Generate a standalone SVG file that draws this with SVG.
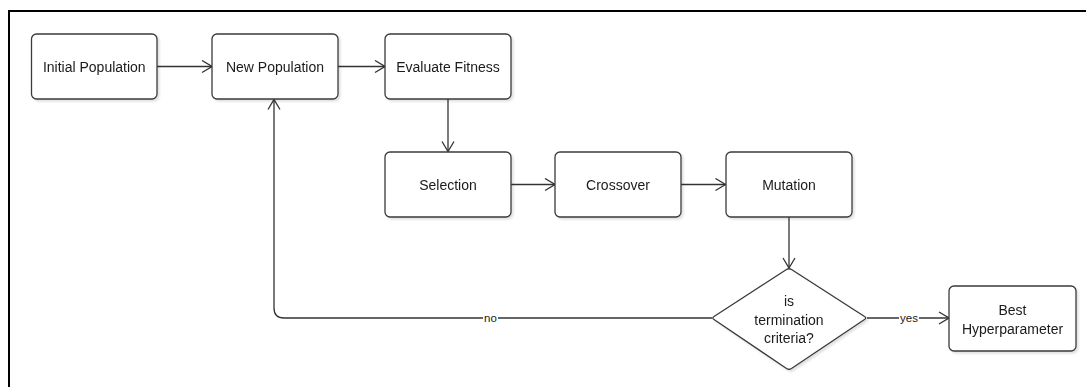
<svg xmlns="http://www.w3.org/2000/svg" width="1086" height="387" viewBox="0 0 1086 387">
  <style>
    .box { fill: #ffffff; stroke: #3a3a3a; stroke-width: 1.3; }
    .lbl { font-family: "Liberation Sans", Arial, sans-serif; font-size: 14px; fill: #1a1a1a; text-anchor: middle; dominant-baseline: central; }
    .edge { fill: none; stroke: #333333; stroke-width: 1.3; }
    .elbl { font-family: "Liberation Sans", Arial, sans-serif; font-size: 11.5px; fill: #1a1a1a; text-anchor: middle; dominant-baseline: central; }
  </style>
  <defs>
    <marker id="open" viewBox="0 0 12 14" refX="11" refY="7" markerWidth="12" markerHeight="14" markerUnits="userSpaceOnUse" orient="auto">
      <path d="M1,1 L11,7 L1,13" fill="none" stroke="#333333" stroke-width="1.3"/>
    </marker>
    <filter id="shadow" x="-10%" y="-10%" width="130%" height="140%">
      <feGaussianBlur in="SourceAlpha" stdDeviation="1.2"/>
      <feOffset dx="2" dy="2" result="b"/>
      <feComponentTransfer><feFuncA type="linear" slope="0.12"/></feComponentTransfer>
      <feMerge><feMergeNode/><feMergeNode in="SourceGraphic"/></feMerge>
    </filter>
  </defs>

  <rect width="1086" height="387" fill="#ffffff"/>
  <!-- frame: top and left edges -->
  <path d="M9,387 L9,11 L1086,11" fill="none" stroke="#000000" stroke-width="2"/>

  <g id="connectors">
    <path class="edge" d="M157,66.5 L212,66.5" marker-end="url(#open)"/>
    <path class="edge" d="M338,66.5 L385,66.5" marker-end="url(#open)"/>
    <path class="edge" d="M448,99 L448,151.5" marker-end="url(#open)"/>
    <path class="edge" d="M511,184.5 L555,184.5" marker-end="url(#open)"/>
    <path class="edge" d="M681,184.5 L725.5,184.5" marker-end="url(#open)"/>
    <path class="edge" d="M789,217 L789,268" marker-end="url(#open)"/>
    <path class="edge" d="M712,318 L284,318 Q274,318 274,308 L274,99.5" marker-end="url(#open)"/>
    <path class="edge" d="M867,318 L949,318" marker-end="url(#open)"/>
    <rect x="483" y="311" width="15" height="14" fill="#ffffff"/>
    <text class="elbl" x="490.5" y="318">no</text>
    <rect x="899" y="311" width="20" height="14" fill="#ffffff"/>
    <text class="elbl" x="909" y="317.5">yes</text>
  </g>

  <g id="initial-population" filter="url(#shadow)">
    <rect class="box" x="31.5" y="34" width="125.5" height="65" rx="5"/>
    <text class="lbl" x="94.3" y="66.5">Initial Population</text>
  </g>
  <g id="new-population" filter="url(#shadow)">
    <rect class="box" x="212" y="34" width="126" height="65" rx="5"/>
    <text class="lbl" x="275" y="66.5">New Population</text>
  </g>
  <g id="evaluate-fitness" filter="url(#shadow)">
    <rect class="box" x="385" y="34" width="126" height="65" rx="5"/>
    <text class="lbl" x="448" y="66.5">Evaluate Fitness</text>
  </g>
  <g id="selection" filter="url(#shadow)">
    <rect class="box" x="385" y="152" width="126" height="65" rx="5"/>
    <text class="lbl" x="448" y="184.5">Selection</text>
  </g>
  <g id="crossover" filter="url(#shadow)">
    <rect class="box" x="555" y="152" width="126" height="65" rx="5"/>
    <text class="lbl" x="618" y="184.5">Crossover</text>
  </g>
  <g id="mutation" filter="url(#shadow)">
    <rect class="box" x="726" y="152" width="126" height="65" rx="5"/>
    <text class="lbl" x="789" y="184.5">Mutation</text>
  </g>
  <g id="termination-check" filter="url(#shadow)">
    <path class="box" d="M786.5,269.5 Q789,268 791.5,269.5 L864.5,316.5 Q867,318 864.5,319.5 L791.5,368.5 Q789,370 786.5,368.5 L714,319.5 Q711.5,318 714,316.5 Z"/>
    <text class="lbl" x="789" y="301">is</text>
    <text class="lbl" x="789" y="319.5">termination</text>
    <text class="lbl" x="789" y="338">criteria?</text>
  </g>
  <g id="best-hyperparameter" filter="url(#shadow)">
    <rect class="box" x="949" y="286" width="127" height="65" rx="5"/>
    <text class="lbl" x="1012.5" y="309.5">Best</text>
    <text class="lbl" x="1012.5" y="329">Hyperparameter</text>
  </g>
</svg>
